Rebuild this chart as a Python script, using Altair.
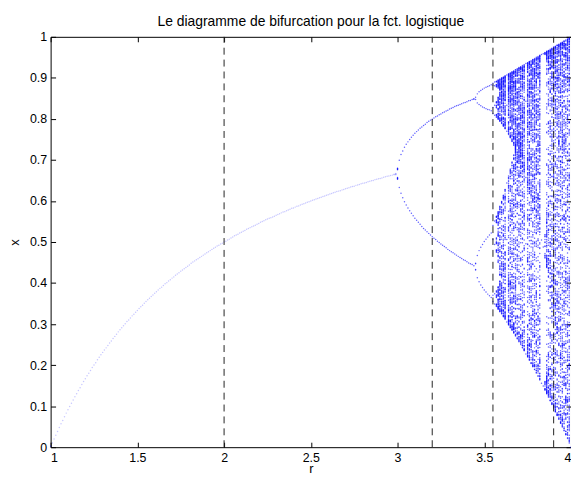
import numpy as np
import pandas as pd
import altair as alt

# ---- chart content ----
TITLE = "Le diagramme de bifurcation pour la fct. logistique"
X_TITLE = "r"
Y_TITLE = "x"
R_RANGE = [1.0, 4.0]
X_RANGE = [0.0, 1.0]
R_TICKS = [1, 1.5, 2, 2.5, 3, 3.5, 4]
X_TICKS = [0, 0.1, 0.2, 0.3, 0.4, 0.5, 0.6, 0.7, 0.8, 0.9, 1]
VLINES_R = [2.0, 3.2, 3.55, 3.9]

# logistic map x_{n+1} = r x_n (1 - x_n): parameter grid and iteration counts
R_STEP = 0.01
X0 = 0.5
N_TRANSIENT = 300
N_KEEP = 250

r_all = np.round(np.arange(1.0, 4.0 + 1e-9, R_STEP), 4)

x = np.full_like(r_all, X0)
for _ in range(N_TRANSIENT):
    x = r_all * x * (1 - x)
rows_r, rows_x = [], []
for _ in range(N_KEEP):
    x = r_all * x * (1 - x)
    rows_r.append(r_all.copy())
    rows_x.append(x.copy())
pts = pd.DataFrame({"r": np.concatenate(rows_r),
                    "x": np.concatenate(rows_x).round(3)})
pts = pts.drop_duplicates().reset_index(drop=True)

vl = pd.DataFrame({"r": VLINES_R})

FONT = "Liberation Sans"
xs = alt.Scale(domain=R_RANGE, nice=False, zero=False)
ys = alt.Scale(domain=X_RANGE, nice=False, zero=False)

points = alt.Chart(pts).mark_circle(color="#0000ff", size=2.2).encode(
    x=alt.X("r:Q", scale=xs, axis=alt.Axis(
        orient="bottom", values=R_TICKS, format="~g", title=X_TITLE,
        ticks=False, tickSize=0, domain=False, grid=False,
        labelPadding=4, labelFontSize=12.5, labelFont=FONT, labelColor="black",
        titleFont=FONT, titleFontSize=13, titleFontWeight="normal",
        titleColor="black", titleBaseline="alphabetic", titleY=26)),
    y=alt.Y("x:Q", scale=ys, axis=alt.Axis(
        orient="left", values=X_TICKS, format="~g", title=Y_TITLE,
        ticks=False, tickSize=0, domain=False, grid=False,
        labelPadding=4, labelFontSize=12.5, labelFont=FONT, labelColor="black",
        titleFont=FONT, titleFontSize=13, titleFontWeight="normal",
        titleColor="black", titlePadding=8)),
    opacity=alt.condition("datum.r < 2.995", alt.value(0.22), alt.value(0.62)),
)

def tick_axis(orient, values):
    return alt.Axis(orient=orient, values=values, labels=False, title=None,
                    domain=False, grid=False, ticks=True, tickSize=5,
                    tickColor="black", tickWidth=1, offset=-5)

rules = alt.Chart(vl).mark_rule(color="#222222", strokeDash=[7, 5], strokeWidth=1).encode(
    x=alt.X("r:Q", scale=xs, axis=tick_axis("bottom", R_TICKS)),
    y=alt.Y(datum=X_RANGE[0], scale=ys, axis=tick_axis("left", X_TICKS)),
    y2=alt.Y2(datum=X_RANGE[1]),
)

rules_ghost = alt.Chart(vl).mark_rule(opacity=0).encode(
    x=alt.X("r:Q", scale=xs, axis=tick_axis("top", R_TICKS)),
    y=alt.Y(datum=X_RANGE[0], scale=ys, axis=tick_axis("right", X_TICKS)),
    y2=alt.Y2(datum=X_RANGE[1]),
)

chart = alt.layer(points, rules, rules_ghost).resolve_axis(
    x="independent", y="independent"
).properties(
    width=525, height=414,
    title=alt.TitleParams(TITLE, font=FONT, fontSize=14, fontWeight="normal",
                          color="black", anchor="middle", frame="group",
                          offset=2),
    autosize=alt.AutoSizeParams(type="none"),
    padding={"left": 43, "top": 27, "right": 0, "bottom": 27},
).configure_view(stroke="black", strokeWidth=1)

chart.save("out.html", embed_options={"renderer": "svg", "actions": False})
